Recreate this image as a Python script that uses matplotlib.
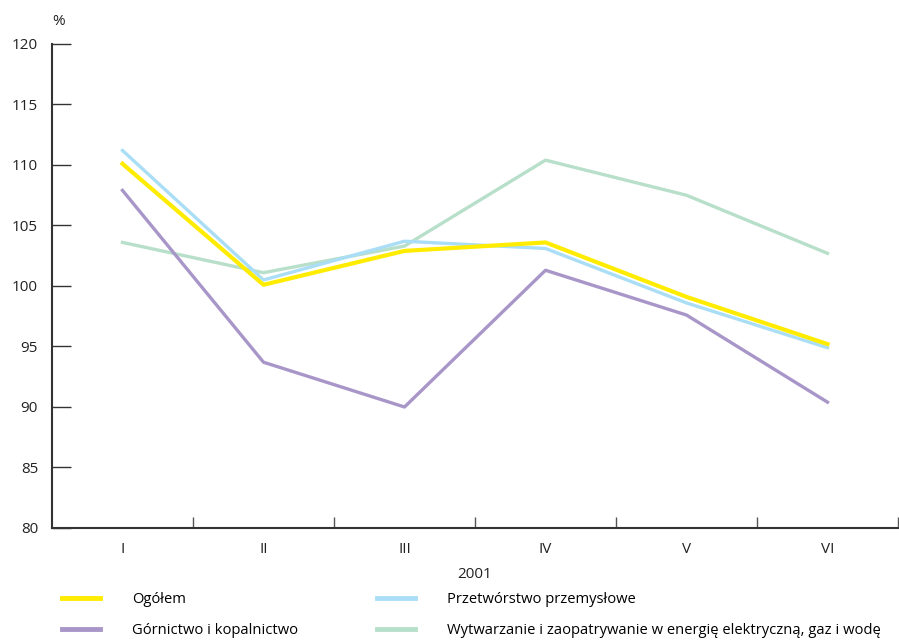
import numpy as np
import matplotlib.pyplot as plt
from matplotlib.ticker import FixedLocator

plt.rcParams['font.family'] = ['Open Sans', 'DejaVu Sans']

months = ["I", "II", "III", "IV", "V", "VI"]
ogolem = [110.1, 100.1, 102.9, 103.6, 99.1, 95.2]
gornictwo = [107.9, 93.7, 90.0, 101.3, 97.6, 90.4]
przetworstwo = [111.2, 100.5, 103.7, 103.1, 98.6, 94.9]
wytwarzanie = [103.6, 101.1, 103.3, 110.4, 107.5, 102.7]

fig = plt.figure(figsize=(8.99, 6.42), dpi=100)
ax = fig.add_axes([52 / 899, 1 - 528 / 642, 846 / 899, 484 / 642])

x = np.arange(len(months))
l1, = ax.plot(x, ogolem, color="#ffec00", lw=3.0, label="Ogółem", zorder=5)
l2, = ax.plot(x, gornictwo, color="#a996c9", lw=2.4, label="Górnictwo i kopalnictwo", zorder=3)
l3, = ax.plot(x, przetworstwo, color="#a9def6", lw=2.4, label="Przetwórstwo przemysłowe", zorder=4)
l4, = ax.plot(x, wytwarzanie, color="#b7dfc9", lw=2.4,
              label="Wytwarzanie i zaopatrywanie w energię elektryczną, gaz i wodę", zorder=2)

ax.set_xlim(-0.5, len(months) - 0.5)
ax.set_ylim(80, 120)
ax.set_yticks(np.arange(80, 121, 5))
ax.set_xticks(x)
ax.set_xticklabels(months)
# tick marks only at the boundaries between months
ax.xaxis.set_minor_locator(FixedLocator(list(x + 0.5)))

for s in ["top", "right"]:
    ax.spines[s].set_visible(False)
for s in ["left", "bottom"]:
    ax.spines[s].set_color("#333333")
    ax.spines[s].set_linewidth(1.5)

ax.tick_params(axis="y", direction="in", length=14, width=1.0, color="#333333",
               labelsize=11, pad=10, labelcolor="#222222")
ax.tick_params(axis="x", which="major", length=0, labelsize=11, pad=10, labelcolor="#222222")
ax.tick_params(axis="x", which="minor", direction="in", length=8, width=1.0, color="#555555")

ax.set_xlabel("2001", fontsize=11, labelpad=7, color="#222222")
ax.text(0.0, 1.03, "%", transform=ax.transAxes, fontsize=11, color="#222222", ha="left", va="bottom")

fig.legend(handles=[l1, l2, l3, l4], loc="upper left", bbox_to_anchor=(62 / 899, 1 - 592 / 642),
           ncol=2, frameon=False, fontsize=10.6, handlelength=2.55, handletextpad=2.2,
           columnspacing=5.4, labelspacing=1.1, borderaxespad=0, borderpad=0)
for line in fig.legends[0].get_lines():
    line.set_linewidth(3.5)

fig.savefig("out.png", dpi=100)
